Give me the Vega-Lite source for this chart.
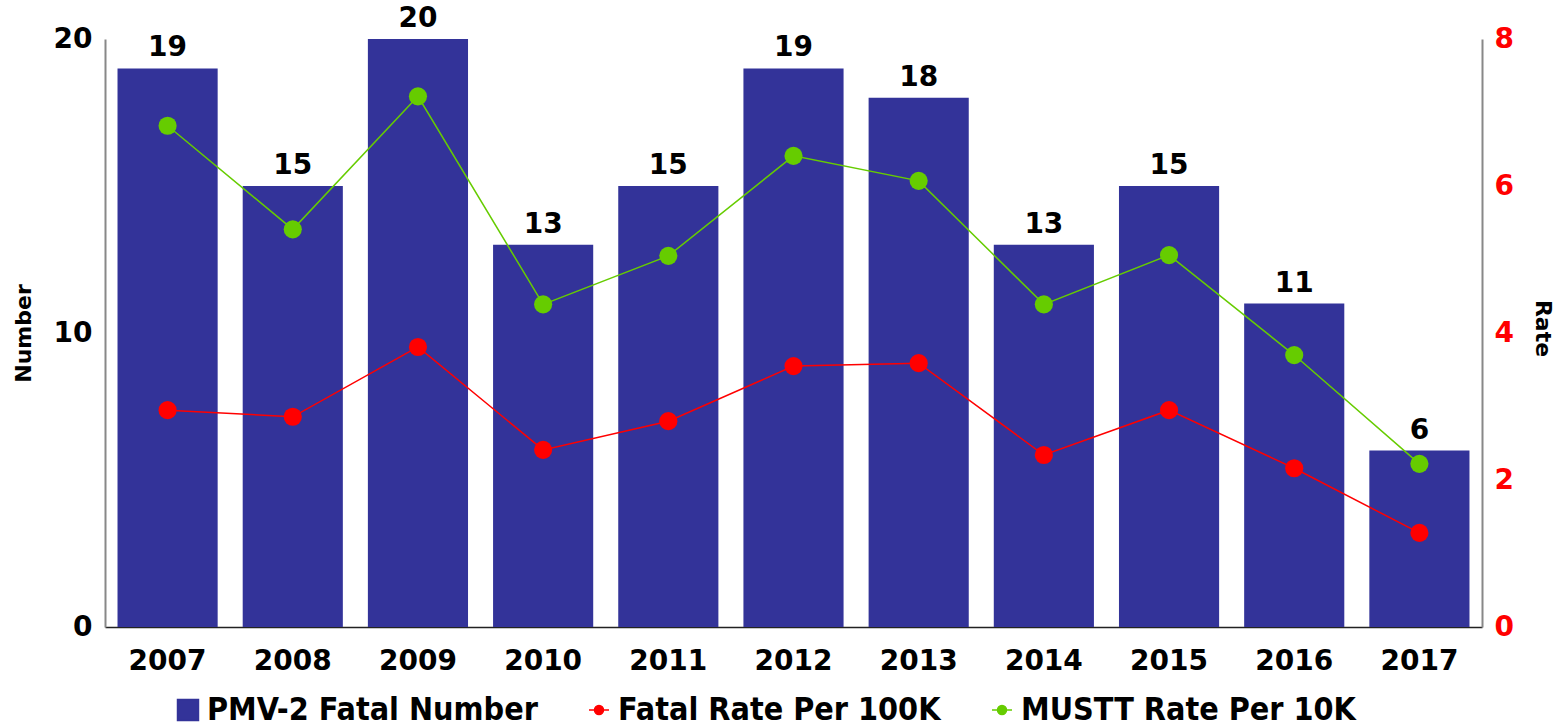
{
  "$schema": "https://vega.github.io/schema/vega-lite/v6.json",
  "autosize": "none",
  "width": 1377,
  "height": 588,
  "padding": {"left": 105, "top": 39, "right": 74, "bottom": 100},
  "background": "white",
  "config": {
    "view": {"stroke": null},
    "font": "DejaVu Sans",
    "axis": {"grid": false, "ticks": false, "labelFont": "DejaVu Sans", "labelFontWeight": "bold", "labelFontSize": 28, "labelColor": "black", "titleFont": "DejaVu Sans", "titleFontWeight": "bold", "titleFontSize": 22, "titleColor": "black"},
    "legend": {"title": null, "orient": "none", "legendX": 67, "legendY": 655, "direction": "horizontal", "columns": 3,
      "labelFont": "DejaVu Sans Condensed", "labelFontWeight": "bold", "labelFontSize": 32, "labelColor": "black", "labelLimit": 700,
      "symbolSize": 440, "columnPadding": 45, "labelOffset": 3}
  },
  "data": {
    "values": [
      {"Year": "2007", "Number": 19, "Fatal Rate Per 100K": 2.95, "MUSTT Rate Per 10K": 6.82},
      {"Year": "2008", "Number": 15, "Fatal Rate Per 100K": 2.86, "MUSTT Rate Per 10K": 5.41},
      {"Year": "2009", "Number": 20, "Fatal Rate Per 100K": 3.81, "MUSTT Rate Per 10K": 7.22},
      {"Year": "2010", "Number": 13, "Fatal Rate Per 100K": 2.41, "MUSTT Rate Per 10K": 4.39},
      {"Year": "2011", "Number": 15, "Fatal Rate Per 100K": 2.8, "MUSTT Rate Per 10K": 5.05},
      {"Year": "2012", "Number": 19, "Fatal Rate Per 100K": 3.55, "MUSTT Rate Per 10K": 6.41},
      {"Year": "2013", "Number": 18, "Fatal Rate Per 100K": 3.59, "MUSTT Rate Per 10K": 6.07},
      {"Year": "2014", "Number": 13, "Fatal Rate Per 100K": 2.34, "MUSTT Rate Per 10K": 4.39},
      {"Year": "2015", "Number": 15, "Fatal Rate Per 100K": 2.95, "MUSTT Rate Per 10K": 5.06},
      {"Year": "2016", "Number": 11, "Fatal Rate Per 100K": 2.16, "MUSTT Rate Per 10K": 3.7},
      {"Year": "2017", "Number": 6, "Fatal Rate Per 100K": 1.28, "MUSTT Rate Per 10K": 2.22}
    ]
  },
  "encoding": {
    "x": {"field": "Year", "type": "ordinal", "scale": {"paddingInner": 0.2, "paddingOuter": 0.1},
      "axis": {"title": null, "labelAngle": 0, "labelPadding": 20, "domainColor": "#222222", "domainWidth": 1.5}}
  },
  "layer": [
    {
      "encoding": {
        "y": {"field": "Number", "type": "quantitative", "scale": {"domain": [0, 20]},
          "axis": {"values": [0, 10, 20], "title": "Number", "labelPadding": 13, "domainColor": "#888888", "domainWidth": 2,
            "titleAngle": -90, "titleX": -82, "titleY": 294, "titleAlign": "center", "titleBaseline": "middle"}}
      },
      "layer": [
        {"mark": {"type": "bar"},
         "encoding": {"color": {"datum": "PMV-2 Fatal Number", "type": "nominal",
            "scale": {"domain": ["PMV-2 Fatal Number", "Fatal Rate Per 100K", "MUSTT Rate Per 10K"], "range": ["#333399", "#FF0000", "#66CC00"]},
            "legend": {"title": null,
              "encode": {"symbols": {"update": {
                "shape": {"signal": "datum.value === 'PMV-2 Fatal Number' ? 'square' : 'M-1,0L1,0M-0.45,0A0.45,0.45,0,1,0,0.45,0A0.45,0.45,0,1,0,-0.45,0Z'"},
                "size": {"signal": "datum.value === 'PMV-2 Fatal Number' ? 440 : 400"},
                "fill": {"scale": "color", "field": "value"},
                "stroke": {"scale": "color", "field": "value"},
                "strokeWidth": {"value": 1.5},
                "opacity": {"value": 1},
                "fillOpacity": {"value": 1}
              }}}}}}},
        {"mark": {"type": "text", "baseline": "bottom", "dy": -6, "fontSize": 28, "fontWeight": "bold", "color": "black"},
         "encoding": {"text": {"field": "Number", "type": "quantitative"}}}
      ]
    },
    {
      "transform": [{"fold": ["Fatal Rate Per 100K", "MUSTT Rate Per 10K"], "as": ["Series", "Rate"]}],
      "mark": {"type": "line", "strokeWidth": 1.5, "point": {"filled": true, "size": 330, "opacity": 1}},
      "encoding": {
        "y": {"field": "Rate", "type": "quantitative", "scale": {"domain": [0, 8]},
          "axis": {"orient": "right", "values": [0, 2, 4, 6, 8], "title": "Rate", "labelColor": "#FF0000", "labelPadding": 12, "domainColor": "#888888", "domainWidth": 2,
            "titleAngle": 90, "titleX": 60, "titleY": 289, "titleAlign": "center", "titleBaseline": "middle"}},
        "color": {"field": "Series", "type": "nominal", "legend": {"title": null}}
      }
    }
  ],
  "resolve": {"scale": {"y": "independent"}}
}
